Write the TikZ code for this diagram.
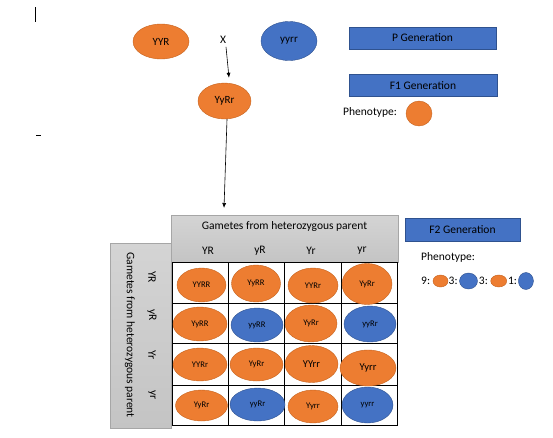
\documentclass[tikz,border=0pt]{standalone}
\usepackage{fontspec}
\setmainfont{Carlito}
\usepackage{tikz}
\usetikzlibrary{arrows.meta,positioning,shapes.geometric}
\definecolor{seedOr}{HTML}{ED7D31}
\definecolor{seedOrEdge}{HTML}{C5631F}
\definecolor{seedBl}{HTML}{4472C4}
\definecolor{seedBlEdge}{HTML}{2F528F}
\definecolor{panelTop}{HTML}{D4D4D4}
\definecolor{panelBot}{HTML}{C4C4C4}
\definecolor{panelEdge}{HTML}{A6A6A6}
\tikzset{
  txt/.style={inner sep=0pt, font=\fontsize{11.5}{13}\selectfont},
  seed/.style={ellipse, inner sep=0pt, font=\fontsize{11}{13}\selectfont},
  orseed/.style={seed, draw=seedOrEdge, fill=seedOr},
  blseed/.style={seed, draw=seedBlEdge, fill=seedBl},
  cell/.style={font=\fontsize{8.6}{10}\selectfont},
  bigcell/.style={font=\fontsize{10.5}{12}\selectfont},
  gen/.style={draw=seedBlEdge, fill=seedBl, minimum height=22, inner sep=0pt,
              font=\fontsize{11.5}{13}\selectfont},
  panel/.style={draw=panelEdge, top color=panelTop, bottom color=panelBot, inner sep=0pt},
  flow/.style={-{Latex[length=5pt,width=4pt]}, semithick}
}

\begin{document}
\begin{tikzpicture}[x=1pt, y=-1pt]
    \useasboundingbox (0,0) rectangle (553,437);

    %% cursor marks
    \draw[line width=0.9pt] (35.7,7) -- (35.7,22);
    \draw[line width=0.9pt] (36,135) -- (41,135);

    %% P cross
    \node[orseed, minimum width=56, minimum height=35] (pYY) at (161,41.5) {YYR};
    \node[txt] (cross) at (223,40) {X};
    \node[blseed, minimum width=56, minimum height=39] (pyy) at (289,41) {yyrr};
    \node[orseed, minimum width=53, minimum height=36] (f1) at (224.5,101) {YyRr};

    %% legends
    \node[gen, minimum width=147] (pgen) at (422.5,38) {P Generation};
    \node[gen, minimum width=148] (f1gen) at (423,85.5) {F1 Generation};
    \node[txt, anchor=west] (f1phen) at (343,112) {Phenotype:};
    \node[orseed, minimum width=26, minimum height=25] (f1dot) at (419,113.5) {};

    \node[gen, minimum width=115, minimum height=23] (f2gen) at (462.5,229.5) {F2 Generation};
    \node[txt, anchor=west] (f2phen) at (421,257) {Phenotype:};
    \node[txt, anchor=west] (n9) at (421,281) {9:};
    \node[orseed, minimum width=15, minimum height=12, right=2.5pt of n9] (e9) {};
    \node[txt, right=0.3pt of e9] (n3a) {3:};
    \node[blseed, minimum width=18, minimum height=16, right=1.5pt of n3a] (e3a) {};
    \node[txt, right=1pt of e3a] (n3b) {3:};
    \node[orseed, minimum width=16, minimum height=12, right=2.5pt of n3b] (e3b) {};
    \node[txt, right=1pt of e3b] (n1) {1:};
    \node[blseed, minimum width=15, minimum height=17, right=1pt of n1] (e1) {};

    %% Punnett square frame
    \node[panel, minimum width=61, minimum height=185] (side) at (140.5,335.5) {};
    \node[panel, minimum width=227, minimum height=47] (header) at (284.5,238.5) {};
    \node[txt] (hdr) at (284.5,226) {Gametes from heterozygous parent};
    \node[txt] (cYR) at (208,251) {YR};
    \node[txt] (cyR) at (260,251) {yR};
    \node[txt] (cYr) at (311,251) {Yr};
    \node[txt] (cyr) at (362,251) {yr};
    \node[txt, rotate=-90] (sidelbl) at (130,335) {Gametes from heterozygous parent};
    \node[txt, rotate=-90] (rYR) at (152,277) {YR};
    \node[txt, rotate=-90] (ryR) at (152,315) {yR};
    \node[txt, rotate=-90] (rYr) at (152,355) {Yr};
    \node[txt, rotate=-90] (ryr) at (152,395) {yr};

    \draw[line width=0.9pt] (172,262) rectangle (397,425);
    \draw[line width=0.9pt] (228,262) -- (228,425) (284,262) -- (284,425) (341,262) -- (341,425);
    \draw[line width=0.9pt] (172,303) -- (397,303) (172,343) -- (397,343) (172,385) -- (397,385);

    %% F2 offspring
    \node[orseed, cell, minimum width=49, minimum height=34] (s11) at (201.5,285) {YYRR};
    \node[orseed, cell, minimum width=49, minimum height=37] (s12) at (256,283.5) {YyRR};
    \node[orseed, cell, minimum width=50, minimum height=35] (s13) at (313,285.5) {YYRr};
    \node[orseed, cell, minimum width=50, minimum height=41] (s14) at (367,284) {YyRr};

    \node[orseed, cell, minimum width=54, minimum height=34] (s21) at (200,324) {YyRR};
    \node[blseed, cell, minimum width=52, minimum height=34] (s22) at (257,325) {yyRR};
    \node[orseed, cell, minimum width=52, minimum height=37] (s23) at (311,323.5) {YyRr};
    \node[blseed, cell, minimum width=52, minimum height=36] (s24) at (370,324) {yyRr};

    \node[orseed, cell, minimum width=54, minimum height=33] (s31) at (200,364.5) {YYRr};
    \node[orseed, cell, minimum width=53, minimum height=33] (s32) at (256.5,364.5) {YyRr};
    \node[orseed, bigcell, minimum width=53, minimum height=37] (s33) at (311.5,364) {YYrr};
    \node[orseed, bigcell, minimum width=56, minimum height=36] (s34) at (368,368) {Yyrr};

    \node[orseed, cell, minimum width=52, minimum height=31] (s41) at (201.5,405.5) {YyRr};
    \node[blseed, cell, minimum width=55, minimum height=33] (s42) at (257.5,404.5) {yyRr};
    \node[orseed, cell, minimum width=50, minimum height=33] (s43) at (313,406.5) {Yyrr};
    \node[blseed, cell, minimum width=51, minimum height=36] (s44) at (367.5,405) {yyrr};

    %% arrows
    \coordinate (tip) at (224,208);
    \draw[flow] ([xshift=3pt,yshift=-3pt]cross.south) -- ([xshift=4.5pt,yshift=5pt]f1.north);
    \draw[flow] ([xshift=2.5pt]f1.south) -- (tip);
  \end{tikzpicture}
\end{document}
